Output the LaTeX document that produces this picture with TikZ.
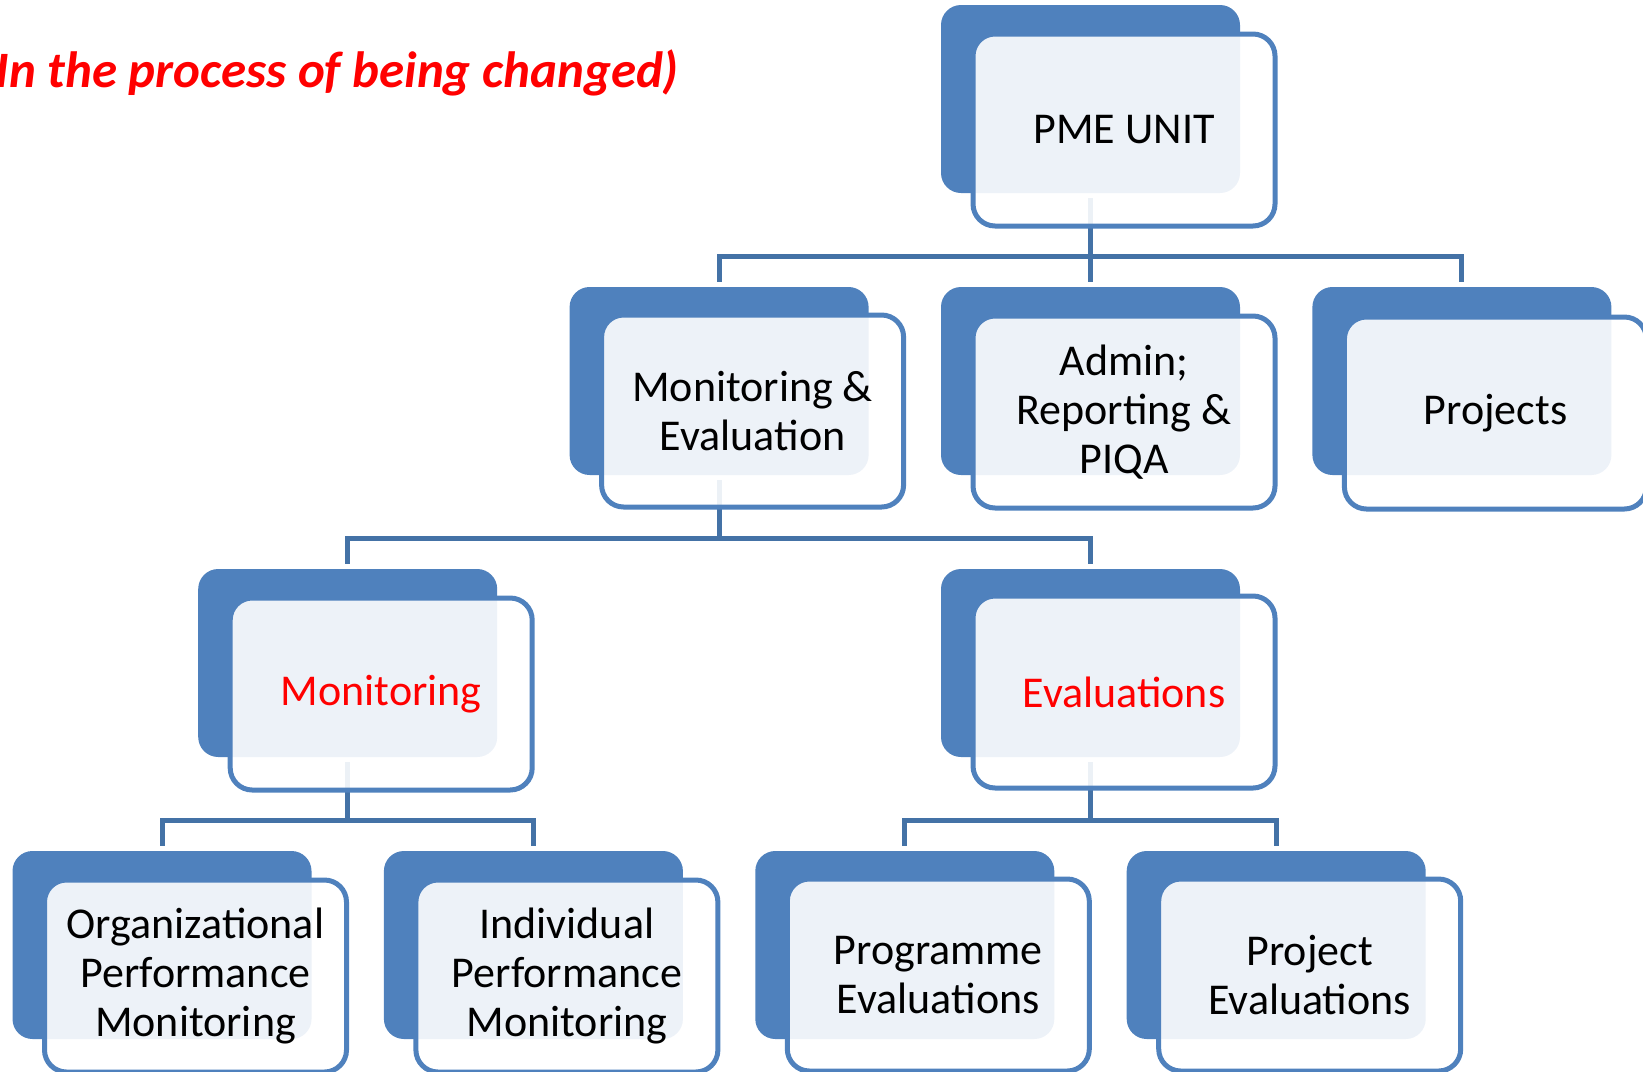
\documentclass[tikz,border=0pt]{standalone}
\usepackage{fontspec}
\setmainfont{Carlito}
\definecolor{boxblue}{RGB}{79,129,189}
\definecolor{linkblue}{RGB}{68,114,166}
\definecolor{notered}{RGB}{255,0,0}
\begin{document}
\begin{tikzpicture}[x=0.5pt,y=-0.5pt,
    backbox/.style={fill=boxblue, rounded corners=10pt, minimum width=149.5pt, minimum height=94pt, inner sep=0pt},
    frontbox/.style={draw=boxblue, line width=2.5pt, fill=white, fill opacity=0.9, text opacity=1,
        rounded corners=11pt, minimum width=151pt, minimum height=96pt, inner sep=0pt, align=center,
        font=\fontsize{22}{24.5}\selectfont},
    link/.style={draw=linkblue, line width=2.5pt, shorten <=2.5pt, shorten >=2.5pt}]
    \useasboundingbox (0,0) rectangle (1643,1071);

    % Note
    \node[anchor=base east, text=notered, font=\fontsize{25.5}{30}\selectfont\bfseries\itshape] (note) at (686,87) {(In the process of being changed)};

    % Back boxes
    \node[backbox] (pmeb) at (1090.5,99) {};
    \node[backbox] (meb) at (719.1,381) {};
    \node[backbox] (admb) at (1090.5,381) {};
    \node[backbox] (projb) at (1461.9,381) {};
    \node[backbox] (monb) at (347.7,663) {};
    \node[backbox] (evalb) at (1090.5,663) {};
    \node[backbox] (opmb) at (162,945) {};
    \node[backbox] (ipmb) at (533.4,945) {};
    \node[backbox] (progb) at (904.8,945) {};
    \node[backbox] (pevalb) at (1276.2,945) {};

    % Edges
    \draw[link] (pmeb.south) -- ++(0,63) -| (meb.north);
    \draw[link] (pmeb.south) -- (admb.north);
    \draw[link] (pmeb.south) -- ++(0,63) -| (projb.north);
    \draw[link] (meb.south) -- ++(0,63) -| (monb.north);
    \draw[link] (meb.south) -- ++(0,63) -| (evalb.north);
    \draw[link] (monb.south) -- ++(0,63) -| (opmb.north);
    \draw[link] (monb.south) -- ++(0,63) -| (ipmb.north);
    \draw[link] (evalb.south) -- ++(0,63) -| (progb.north);
    \draw[link] (evalb.south) -- ++(0,63) -| (pevalb.north);

    % Front boxes
    \node[frontbox] (pme) at (1124,130) {PME UNIT};
    \node[frontbox] (me) at (752.6,411) {Monitoring \&\\Evaluation};
    \node[frontbox] (adm) at (1124,412) {Admin;\\Reporting \&\\PIQA};
    \node[frontbox] (proj) at (1495.4,413) {Projects};
    \node[frontbox, text=notered] (mon) at (381.2,694) {Monitoring};
    \node[frontbox, text=notered] (eval) at (1124,692) {Evaluations};
    \node[frontbox] (opm) at (195.5,976) {Organizational\\Performance\\Monitoring};
    \node[frontbox] (ipm) at (566.9,976) {Individual\\Performance\\Monitoring};
    \node[frontbox] (prog) at (938.3,975) {Programme\\Evaluations};
    \node[frontbox] (peval) at (1309.7,975) {Project\\Evaluations};
\end{tikzpicture}
\end{document}
